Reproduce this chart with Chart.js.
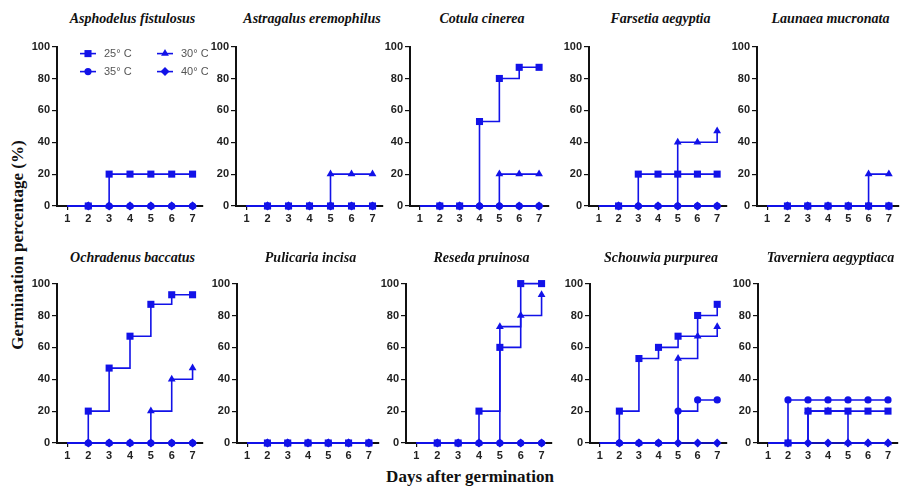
<!DOCTYPE html>
<html><head><meta charset="utf-8">
<script src="https://cdn.jsdelivr.net/npm/chart.js@4.4.1/dist/chart.umd.min.js"></script>
<style>
html,body{margin:0;padding:0;background:#fff;}
body{width:900px;height:486px;overflow:hidden;position:relative}
canvas{position:absolute}
.t{position:absolute;font:italic bold 14px "Liberation Serif","Times New Roman",serif;color:#111;text-align:center;white-space:nowrap;line-height:18px}
.ax{position:absolute;font:bold 17px "Liberation Serif","Times New Roman",serif;color:#111;white-space:nowrap;line-height:20px}
</style></head><body>
<div class="ax" id="ytitle" style="left:18px;top:245px;transform:translate(-50%,-50%) rotate(-90deg);">Germination percentage (%)</div>
<div class="ax" id="xtitle" style="left:470px;top:477px;transform:translate(-50%,-50%);">Days after germination</div>
<script>
// ---- data ----
const days = ['1','2','3','4','5','6','7'];
const seriesNames = ['25° C', '30° C', '35° C', '40° C'];
const yTicks = [0, 20, 40, 60, 80, 100];
const speciesNames = ['Asphodelus fistulosus','Astragalus eremophilus','Cotula cinerea','Farsetia aegyptia','Launaea mucronata',
  'Ochradenus baccatus','Pulicaria incisa','Reseda pruinosa','Schouwia purpurea','Taverniera aegyptiaca'];
// each: [25°C, 30°C, 35°C, 40°C], values for days 1..7 (day 1 drawn without a marker)
const asphodelusFistulosus = [[0,0,20,20,20,20,20],[0,0,0,0,0,0,0],[0,0,0,0,0,0,0],[0,0,0,0,0,0,0]];
const astragalusEremophilus = [[0,0,0,0,0,0,0],[0,0,0,0,20,20,20],[0,0,0,0,0,0,0],[0,0,0,0,0,0,0]];
const cotulaCinerea = [[0,0,0,53,80,87,87],[0,0,0,0,20,20,20],[0,0,0,0,0,0,0],[0,0,0,0,0,0,0]];
const farsetiaAegyptia = [[0,0,20,20,20,20,20],[0,0,0,0,40,40,47],[0,0,0,0,0,0,0],[0,0,0,0,0,0,0]];
const launaeaMucronata = [[0,0,0,0,0,0,0],[0,0,0,0,0,20,20],[0,0,0,0,0,0,0],[0,0,0,0,0,0,0]];
const ochradenusBaccatus = [[0,20,47,67,87,93,93],[0,0,0,0,20,40,47],[0,0,0,0,0,0,0],[0,0,0,0,0,0,0]];
const pulicariaIncisa = [[0,0,0,0,0,0,0],[0,0,0,0,0,0,0],[0,0,0,0,0,0,0],[0,0,0,0,0,0,0]];
const resedaPruinosa = [[0,0,0,20,60,100,100],[0,0,0,0,73,80,93],[0,0,0,0,0,0,0],[0,0,0,0,0,0,0]];
const schouwiaPurpurea = [[0,20,53,60,67,80,87],[0,0,0,0,53,67,73],[0,0,0,0,20,27,27],[0,0,0,0,0,0,0]];
const taverniaAegyptiaca = [[0,0,20,20,20,20,20],[0,0,20,20,0,0,0],[0,27,27,27,27,27,27],[0,0,0,0,0,0,0]];
const allSpecies = [asphodelusFistulosus, astragalusEremophilus, cotulaCinerea, farsetiaAegyptia, launaeaMucronata,
  ochradenusBaccatus, pulicariaIncisa, resedaPruinosa, schouwiaPurpurea, taverniaAegyptiaca];

// ---- layout (plot area: left, right, top, bottom) ----
const panels = [
  [57,208,46,206],[236,388,46,206],[410,554,46,206],[589,732,46,206],[757,904,46,206],
  [57,208,283,443],[237,384,283,443],[406,557,283,443],[590,732,283,443],[758,903,283,443]
];
const BLUE = 'rgb(18,18,232)';
const styles = [
  {pointStyle:'rect', radius:5},
  {pointStyle:'triangle', radius:4.5},
  {pointStyle:'circle', radius:3.6},
  {pointStyle:'rectRot', radius:4.5}
];
const YW = 40, XH = 24, PT = 8;

const legendPlugin = {
  id:'inlegend',
  afterDraw(chart){
    const ctx = chart.ctx, a = chart.chartArea;
    const pos = [[a.left+23, a.top+7],[a.left+100, a.top+7],[a.left+23, a.top+25],[a.left+100, a.top+25]];
    ctx.save();
    seriesNames.forEach((n,i)=>{
      const [x,y] = pos[i];
      ctx.strokeStyle = BLUE; ctx.fillStyle = BLUE; ctx.lineWidth = 1.6;
      ctx.beginPath(); ctx.moveTo(x, y); ctx.lineTo(x+16, y); ctx.stroke();
      Chart.helpers.drawPoint(ctx, {pointStyle:styles[i].pointStyle, radius:styles[i].radius, rotation:0, borderWidth:0}, x+8, y);
      ctx.fillStyle = '#555'; ctx.font = '11px "Liberation Sans", Arial, sans-serif';
      ctx.textBaseline = 'middle'; ctx.textAlign = 'left';
      ctx.fillText(n, x+24, y);
    });
    ctx.restore();
  }
};

panels.forEach((p, idx)=>{
  const [l,r,t,b] = p;
  const title = document.createElement('div');
  title.className = 't';
  title.textContent = speciesNames[idx];
  title.style.left = l+'px'; title.style.width = (r-l)+'px';
  title.style.top = (idx < 5 ? 10 : 249)+'px';
  document.body.appendChild(title);

  const cv = document.createElement('canvas');
  const W = r - l + YW, H = b - t + PT + XH;
  cv.width = W; cv.height = H;
  cv.style.left = (l - YW)+'px'; cv.style.top = (t - PT)+'px';
  cv.style.width = W+'px'; cv.style.height = H+'px';
  document.body.appendChild(cv);

  const data = allSpecies[idx];
  new Chart(cv, {
    type:'line',
    data:{
      labels: days,
      datasets: data.map((vals,i)=>({
        label: seriesNames[i],
        data: vals,
        stepped: true,
        borderColor: BLUE, backgroundColor: BLUE,
        borderWidth: 1.6,
        pointStyle: styles[i].pointStyle,
        pointRadius: (c)=> c.dataIndex === 0 ? 0 : styles[i].radius,
        pointBorderWidth: 0,
        pointBackgroundColor: BLUE,
        fill:false, clip:false, spanGaps:false
      }))
    },
    options:{
      responsive:false, animation:false, devicePixelRatio:1,
      layout:{padding:{top:PT,left:0,right:0,bottom:0}},
      plugins:{legend:{display:false}, title:{display:false}, tooltip:{enabled:false}},
      scales:{
        x:{
          type:'category', offset:true,
          grid:{display:true, drawOnChartArea:false, offset:false, color:'#111', tickLength:4, lineWidth:1.2},
          border:{display:true, color:'#111', width:2},
          ticks:{color:'#222', font:{family:'"Liberation Sans", Arial, sans-serif', size:11, weight:'bold'}, padding:2, maxRotation:0, autoSkip:false},
          afterFit(s){ s.height = XH; }
        },
        y:{
          min:0, max:100,
          afterBuildTicks(s){ s.ticks = yTicks.map(v=>({value:v})); },
          grid:{display:true, drawOnChartArea:false, color:'#111', tickLength:5, lineWidth:1.2},
          border:{display:true, color:'#111', width:2},
          ticks:{color:'#222', font:{family:'"Liberation Sans", Arial, sans-serif', size:11, weight:'bold'}, padding:2},
          afterFit(s){ s.width = YW; }
        }
      }
    },
    plugins: idx === 0 ? [legendPlugin] : []
  });
});
</script>
</body></html>
